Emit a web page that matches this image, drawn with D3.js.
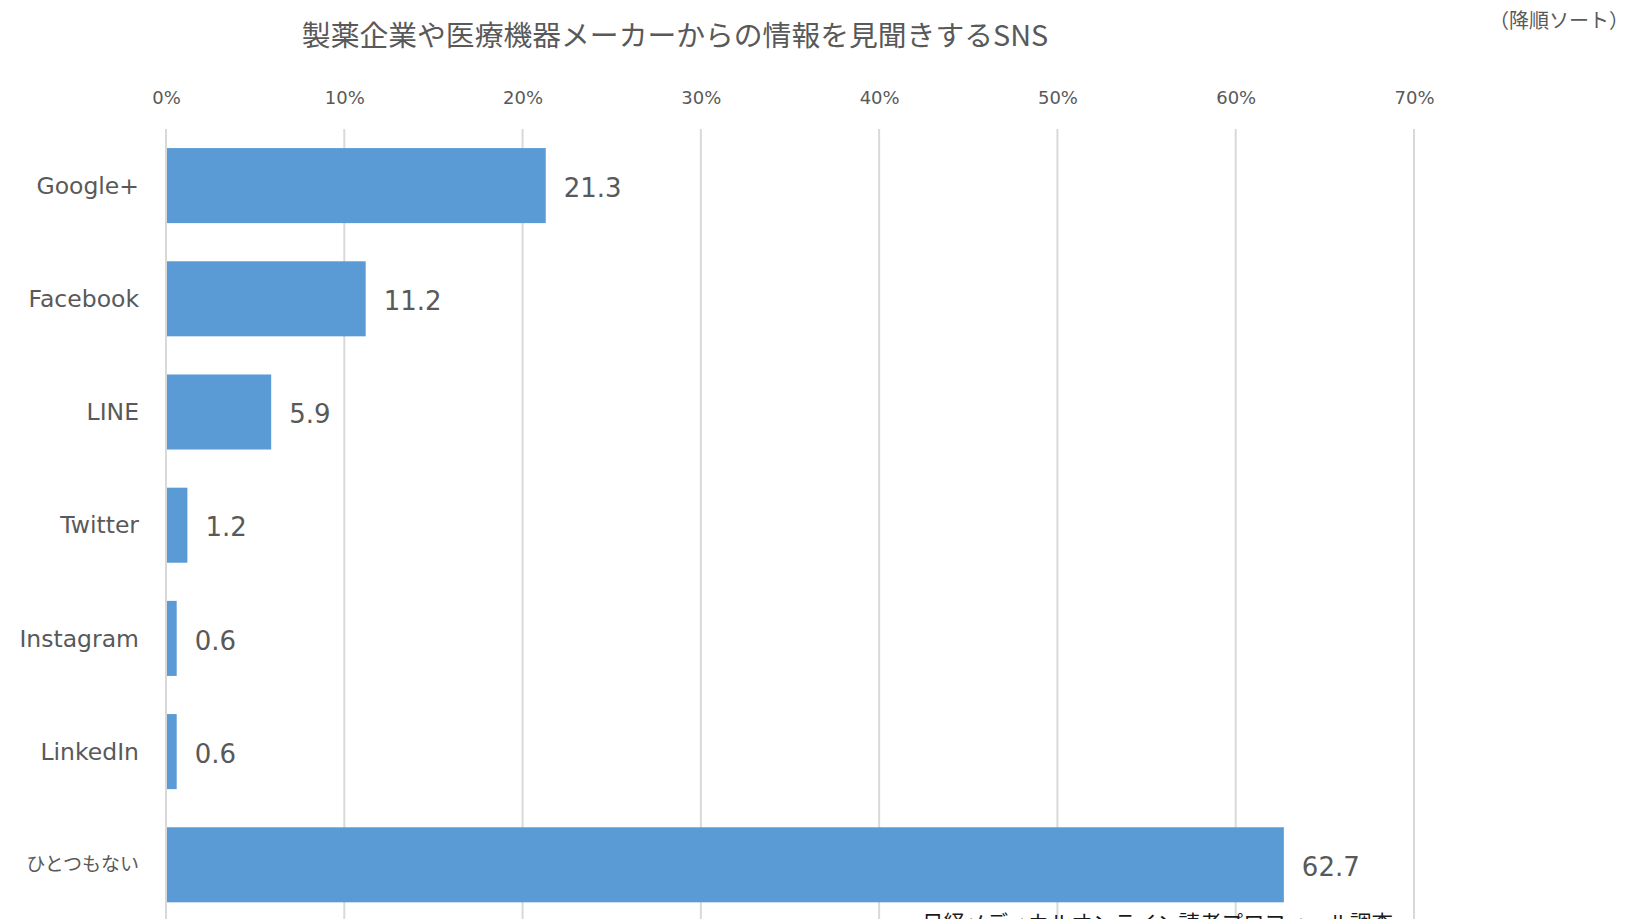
<!DOCTYPE html>
<html>
<head>
<meta charset="utf-8">
<script src="https://cdn.jsdelivr.net/npm/d3@7"></script>
<style>
  html, body { margin: 0; padding: 0; background: #fff; overflow: hidden; }
  svg { display: block; }
  text { font-family: "DejaVu Sans", "Noto Sans CJK JP", sans-serif; }
  .jp { font-family: "Noto Sans CJK JP", sans-serif; }
</style>
</head>
<body>
<svg id="chart" width="1630" height="919"></svg>
<script>
const categories = ["Google+", "Facebook", "LINE", "Twitter", "Instagram", "LinkedIn", "ひとつもない"];
const values = [21.3, 11.2, 5.9, 1.2, 0.6, 0.6, 62.7];
const tickValues = [0, 10, 20, 30, 40, 50, 60, 70];
const tickLabels = ["0%", "10%", "20%", "30%", "40%", "50%", "60%", "70%"];
const titleText = "製薬企業や医療機器メーカーからの情報を見聞きするSNS";
const noteText = "（降順ソート）";
const sourceText = "日経メディカルオンライン読者プロフィール調査";

const svg = d3.select("#chart");
const W = 1630, H = 919;

const x = d3.scaleLinear().domain([0, 70]).range([166, 1414]);
const y = d3.scaleBand().domain(categories).range([129, 921.4])
  .paddingInner(0.337).paddingOuter(0.1685);

// gridlines
svg.append("g").selectAll("line").data(tickValues).join("line")
  .attr("x1", d => x(d)).attr("x2", d => x(d))
  .attr("y1", 129).attr("y2", H)
  .attr("stroke", "#d9d9d9").attr("stroke-width", 2);

// top axis tick labels
const axis = d3.axisTop(x).tickValues(tickValues)
  .tickFormat((d, i) => tickLabels[i]).tickSize(0).tickPadding(0);
const ag = svg.append("g").attr("transform", "translate(0,104)").call(axis);
ag.select(".domain").remove();
ag.selectAll("text").attr("font-size", 18).attr("fill", "#595959")
  .attr("font-family", "DejaVu Sans, sans-serif").attr("dy", 0);

// bars
svg.append("g").selectAll("rect").data(values).join("rect")
  .attr("x", x(0) + 1)
  .attr("y", (d, i) => y(categories[i]))
  .attr("width", d => x(d) - x(0) - 1)
  .attr("height", y.bandwidth())
  .attr("fill", "#5b9bd5");

// category labels
svg.append("g").selectAll("text").data(categories).join("text")
  .attr("x", 139)
  .attr("y", d => y(d) + y.bandwidth() / 2)
  .attr("dy", "0.35em")
  .attr("text-anchor", "end")
  .attr("font-size", d => /[^\x00-\x7F]/.test(d) ? 19 : 23.5)
  .attr("class", d => /[^\x00-\x7F]/.test(d) ? "jp" : null)
  .attr("fill", "#595959")
  .text(d => d);

// value labels
svg.append("g").selectAll("text").data(values).join("text")
  .attr("x", d => x(d) + 18)
  .attr("y", (d, i) => y(categories[i]) + y.bandwidth() / 2 + 2)
  .attr("dy", "0.35em")
  .attr("font-size", 26)
  .attr("fill", "#595959")
  .text(d => d.toFixed(1));

// title
svg.append("text").attr("class", "jp")
  .attr("x", 675).attr("y", 46)
  .attr("text-anchor", "middle")
  .attr("font-size", 28.8)
  .attr("fill", "#595959")
  .text(titleText);

// note
svg.append("text").attr("class", "jp")
  .attr("x", 1629).attr("y", 28)
  .attr("text-anchor", "end")
  .attr("font-size", 20)
  .attr("fill", "#595959")
  .text(noteText);

// source (cut off at bottom, as in the reference)
svg.append("text").attr("class", "jp")
  .attr("x", 922).attr("y", 931)
  .attr("font-size", 21.5)
  .attr("fill", "#1a1a1a")
  .text(sourceText);
</script>
</body>
</html>
